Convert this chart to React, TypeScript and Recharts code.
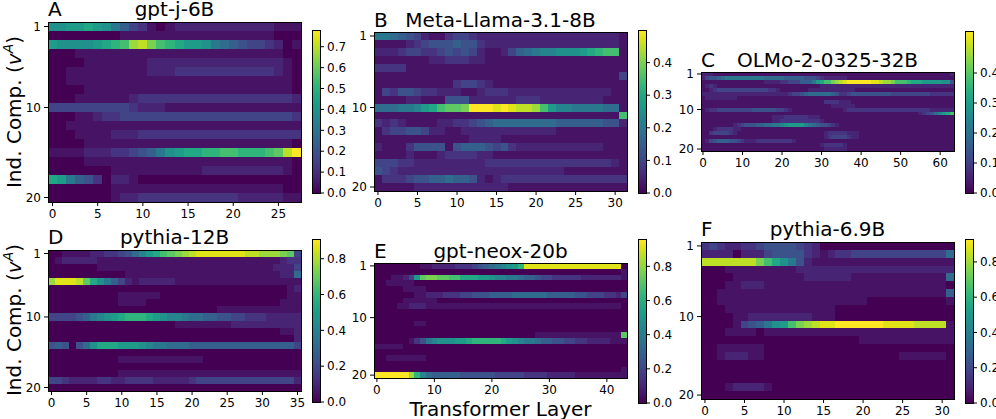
import React from "react";
import { ScatterChart, Scatter, XAxis, YAxis, BarChart, Bar } from "recharts";

const FONT = "'DejaVu Sans', 'Liberation Sans', sans-serif";

// One character per transformer layer; level 0..k = 0..100 % of the panel's colour-bar maximum.
const LEVELS = "0123456789abcdefghijk";

const gptJ6B = [
  "aabbc ba864 31012 22222 22222 111",
  "00000 00011 11111 11111 11111 000",
  "baaaa bcdeh igedc bba87 65443 201",
  "00011 11111 11111 11111 11111 100",
  "00001 11111 12222 22222 22222 210",
  "00111 11111 12223 33333 33333 210",
  "00111 11111 11111 11111 11111 110",
  "00001 11111 11111 11111 11111 110",
  "00011 11112 33333 33333 33333 332",
  "44444 44443 22211 11111 11111 111",
  "00011 23344 44444 44444 44444 443",
  "00111 11111 11111 11111 11111 111",
  "00011 11222 33333 33333 33333 333",
  "00001 11111 11111 11111 11111 110",
  "11112 22334 568ab ccdde eddde fik",
  "00001 11111 11111 11111 11111 110",
  "00000 00111 11111 11222 22222 210",
  "cb865 30221 00000 00000 00000 000",
  "00000 00111 11111 11111 11111 100",
  "00000 00122 33333 33333 32222 211",
];

const llama31_8B = [
  "88765 42113 44322 22222 22222 22222 21",
  "11112 34555 65532 22222 22222 22222 21",
  "22234 43345 45421 12467 899aa abcde e1",
  "11111 11223 33221 11111 11111 11111 11",
  "33331 11111 11111 11111 11111 11111 11",
  "11111 11111 11111 11111 11111 11111 14",
  "11111 11111 34432 11111 11111 11111 11",
  "14355 43322 21123 33222 22222 22222 11",
  "11112 21115 55222 22233 32222 22221 11",
  "77788 9bcef fgkkk jkjii heb99 88887 71",
  "11111 11111 11111 11111 11111 11111 1e",
  "32321 11122 33456 77777 77766 66665 52",
  "13445 54221 12222 22222 22211 11111 11",
  "11111 11111 11222 21111 11111 11111 11",
  "21113 55551 56665 45322 22222 22221 11",
  "11112 11123 33322 11111 11111 11111 11",
  "44433 22222 22223 33333 33333 33333 21",
  "54322 22222 22222 22222 22221 11111 11",
  "13334 55667 66521 23333 33333 33333 33",
  "11111 22222 22222 22111 11111 11111 11",
];

const olmo2_32B = [
  "2221111111 1111111111 1111111111 1111111111 1111111111 1111111111 1112",
  "2455678888 8888887777 7666665554 3222222111 1111111111 1111111111 1111",
  "1111111111 1111112222 334446668b ceeghijkkk kkkjjihhge eedcccbbbb baa5",
  "1232111111 1111111111 1111111111 2222222222 2222222222 2222222222 2222",
  "1123444444 4444444332 1111111222 2222222221 1111111111 1111111111 1111",
  "2222222222 2222222222 2234456777 7776533455 5555555544 4444444433 3333",
  "1222222221 1111111111 1111111111 1111111111 1111111111 1111111111 1111",
  "1111111111 1111111111 1111111111 1333322211 1111111111 1111111111 1111",
  "1111111111 1111111111 1111111111 1112222221 1111111111 1111111111 1111",
  "1233444444 4445555554 4321111111 1111112333 3333333333 3333333322 2222",
  "1111111111 1111111111 1111111111 1111111111 1111111111 1111123457 9bce",
  "1111111111 1111111122 2333333222 1111111111 1111111111 1111111111 1111",
  "1111111111 1111111122 3333333333 2111111111 1111111111 1111111111 1111",
  "1111111123 4555667788 9abbbb9876 5543211111 1111111111 1111111111 1111",
  "1112333322 1111111111 1111111111 1111111111 1111111111 1111111111 1111",
  "1134444321 1111111111 1111111111 1233333222 1111111111 1111111111 1111",
  "1111111111 1111111111 1111111111 1234444322 1111111111 1111111111 1111",
  "1245666554 3222333333 3332111111 1111111111 1111111111 1111111111 1111",
  "1111111111 1111111111 1111111111 2333332111 1111111111 1111111111 1111",
  "1111111111 1111111111 1111111111 1222222111 1111111111 1111111111 1111",
];

const pythia12B = [
  "00111 12233 4579b cefgh ijjjj jjjii hhhgf 4",
  "01222 22111 11111 11111 11111 11111 11123 3",
  "00000 00111 11111 11111 11111 11111 11222 4",
  "00000 00000 01111 11111 11111 11111 11122 7",
  "hjjji fca86 42122 22211 11111 11111 11111 1",
  "00000 00000 00000 00000 00000 00000 00001 2",
  "00000 00000 11111 10000 00000 00000 00001 1",
  "00000 00000 11110 00000 00000 00000 00011 1",
  "00000 00000 00000 00000 00001 11111 11111 1",
  "44445 689ab cdddc ba998 77665 54433 32222 2",
  "00000 00000 00000 00011 11111 12222 22222 2",
  "00000 00000 00000 00000 00000 00000 00011 2",
  "00000 00000 00000 00000 00000 00000 00000 2",
  "56505 7accc bbba9 88777 66666 66666 66666 4",
  "00000 00000 00000 00000 00000 00000 00000 0",
  "00000 00000 11111 11111 11000 00000 00000 0",
  "00000 00000 00000 00000 00000 00000 00000 0",
  "00000 00000 11111 11111 11111 11111 11111 1",
  "44322 22332 23333 22222 34444 44444 44444 2",
  "00000 00000 00000 00000 00000 00000 00000 0",
];

const gptNeox20b = [
  "0000000011 2222333456 789abdjjjj jjjjjjjjjj jjj0",
  "0000000000 0000000000 0000000000 0000000000 0001",
  "0001124bfg gffeecccbb a998876654 4333332222 2221",
  "0011111000 0000000000 0000000000 0000000000 0000",
  "0000011110 0000000000 0000000000 0000000000 0000",
  "0000000112 2233344555 6666777777 6666655444 3324",
  "0000011111 1000000000 0000000000 0000000000 0000",
  "0000112221 1111111111 1111111111 1111111111 1110",
  "0000000000 0000000000 0000000000 0000000000 0000",
  "0000000000 0000000000 0000000000 0000000000 0000",
  "0000000110 0000000000 0000000000 0000000000 0000",
  "0000000000 0000000000 0000000000 0000000000 0000",
  "0000000000 0000000000 0000000011 1111111111 111f",
  "0000001358 9aaabbcddd ddcba98876 6554433222 2111",
  "1111100000 0000000000 0000000000 0000000000 0000",
  "0000000000 0000000000 0000000000 0000000000 0000",
  "0011111110 0000000000 0000000000 0000000000 0000",
  "0000000000 0000000000 0000000000 0000000000 0000",
  "0000000000 0000000000 0000000000 0000000000 0001",
  "kkkkkkhd97 6666655555 5444443333 2222211111 1111",
];

const pythia69B = [
  "34322 33455 55432 00000 00000 00000 00",
  "22220 22245 55532 12334 44444 44444 47",
  "iiiii iigec a8521 11111 11111 11111 11",
  "00011 11111 11222 22222 22222 22222 22",
  "00001 11111 11122 22221 11111 11111 17",
  "00011 22211 11111 11111 11111 11111 10",
  "00111 11111 11111 11111 11111 11111 16",
  "00111 11111 11111 11111 10000 00000 01",
  "00011 11111 11111 11000 00000 00000 00",
  "00001 12222 22221 11000 00000 00000 00",
  "00001 4568a beghi jjkkk kkkjj jjiii i1",
  "00011 11011 11111 11111 11111 11111 11",
  "00000 00000 00000 00000 11111 11111 11",
  "00111 11100 00000 00000 00000 00000 00",
  "00122 21100 00000 00000 00000 11111 10",
  "00000 00000 00000 00000 00000 00000 00",
  "00000 00000 00000 00000 00000 00000 00",
  "00000 00000 00000 00000 00000 00000 00",
  "00012 22210 00000 00000 00000 00000 00",
  "00000 00000 00000 00000 00000 00000 00",
];

const compTicks = [1, 10, 20];
const layerTicksA = [0, 5, 10, 15, 20, 25];
const layerTicksB = [0, 5, 10, 15, 20, 25, 30];
const layerTicksC = [0, 10, 20, 30, 40, 50, 60];
const layerTicksD = [0, 5, 10, 15, 20, 25, 30, 35];
const layerTicksE = [0, 10, 20, 30, 40];
const layerTicksF = [0, 5, 10, 15, 20, 25, 30];
const cbTicksA = [0, 0.1, 0.2, 0.3, 0.4, 0.5, 0.6, 0.7];
const cbTicksBC = [0, 0.1, 0.2, 0.3, 0.4];
const cbTicksDEF = [0, 0.2, 0.4, 0.6, 0.8];

const VIRIDIS = [
  "#440154", "#471365", "#482475", "#463480", "#414487", "#3b528b", "#355f8d",
  "#2f6c8e", "#2a788e", "#25848e", "#21918c", "#1e9c89", "#22a884", "#2fb47c",
  "#44bf70", "#5ec962", "#7ad151", "#9bd93c", "#bddf26", "#dfe318", "#fde725",
];

function hexToRgb(h: string) {
  return [parseInt(h.slice(1, 3), 16), parseInt(h.slice(3, 5), 16), parseInt(h.slice(5, 7), 16)];
}

function viridis(t: number) {
  const x = Math.max(0, Math.min(1, t)) * (VIRIDIS.length - 1);
  const i = Math.floor(x);
  if (i >= VIRIDIS.length - 1) return VIRIDIS[VIRIDIS.length - 1];
  const f = x - i;
  const a = hexToRgb(VIRIDIS[i]);
  const b = hexToRgb(VIRIDIS[i + 1]);
  const c = a.map((av, k) => Math.round(av + (b[k] - av) * f));
  return `rgb(${c[0]},${c[1]},${c[2]})`;
}

function buildCells(rows: string[], n: number, vmax: number) {
  const out: any[] = [];
  rows.forEach((row, r) => {
    const s = row.replace(/\s+/g, "");
    for (let c = 0; c < n; c++) {
      const lvl = Math.max(0, LEVELS.indexOf(s[c] ?? "0"));
      const v = (lvl / 20) * vmax;
      out.push({ layer: c, comp: r + 1, v, fill: viridis(v / vmax) });
    }
  });
  return out;
}

const panels = [
  { key: "A", title: "gpt-j-6B", rows: gptJ6B, n: 28, vmax: 0.78, layerTicks: layerTicksA, cbTicks: cbTicksA,
    plot: { x: 48, y: 22, w: 253, h: 180 }, cb: { x: 312, y: 30, w: 8, h: 163 }, titleY: 15.5 },
  { key: "B", title: "Meta-Llama-3.1-8B", rows: llama31_8B, n: 32, vmax: 0.5, layerTicks: layerTicksB, cbTicks: cbTicksBC,
    plot: { x: 374, y: 32, w: 253, h: 159 }, cb: { x: 638, y: 30, w: 8, h: 163 }, titleY: 27 },
  { key: "C", title: "OLMo-2-0325-32B", rows: olmo2_32B, n: 64, vmax: 0.54, layerTicks: layerTicksC, cbTicks: cbTicksBC,
    plot: { x: 701, y: 72, w: 253, h: 79 }, cb: { x: 965, y: 31, w: 8, h: 162 }, titleY: 66.5 },
  { key: "D", title: "pythia-12B", rows: pythia12B, n: 36, vmax: 0.91, layerTicks: layerTicksD, cbTicks: cbTicksDEF,
    plot: { x: 48, y: 250, w: 253, h: 141 }, cb: { x: 312, y: 239, w: 8, h: 163 }, titleY: 244 },
  { key: "E", title: "gpt-neox-20b", rows: gptNeox20b, n: 44, vmax: 0.96, layerTicks: layerTicksE, cbTicks: cbTicksDEF,
    plot: { x: 374, y: 263, w: 253, h: 115 }, cb: { x: 638, y: 239, w: 8, h: 164 }, titleY: 257.5 },
  { key: "F", title: "pythia-6.9B", rows: pythia69B, n: 32, vmax: 0.93, layerTicks: layerTicksF, cbTicks: cbTicksDEF,
    plot: { x: 701, y: 242, w: 253, h: 157 }, cb: { x: 965, y: 239, w: 8, h: 164 }, titleY: 235.5 },
];

const tickStyle = { fill: "#000", fontSize: 12, fontFamily: FONT };

function Frame({ left, top, w, h }: { left: number; top: number; w: number; h: number }) {
  return (
    <div
      style={{
        position: "absolute", left: left - 0.5, top: top - 0.5, width: w + 1, height: h + 1,
        border: "1px solid #000", boxSizing: "border-box", pointerEvents: "none",
      }}
    />
  );
}

function Heatmap({ p }: { p: any }) {
  const ML = 34, MT = 8, MR = 8, XH = 26;
  const cw = p.plot.w / p.n;
  const chh = p.plot.h / 20;
  const data = buildCells(p.rows, p.n, p.vmax);
  return (
    <div style={{ position: "absolute", left: p.plot.x - ML, top: p.plot.y - MT }}>
      <ScatterChart
        width={ML + p.plot.w + MR}
        height={MT + p.plot.h + XH}
        margin={{ top: MT, right: MR, bottom: 0, left: 0 }}
      >
        <XAxis
          type="number" dataKey="layer" domain={[-0.5, p.n - 0.5]} allowDataOverflow
          ticks={p.layerTicks} interval={0} height={XH} axisLine={false}
          tickSize={4} tickMargin={3} stroke="#000" tick={tickStyle}
        />
        <YAxis
          type="number" dataKey="comp" domain={[0.5, 20.5]} allowDataOverflow reversed
          ticks={compTicks} interval={0} width={ML} axisLine={false}
          tickSize={4} tickMargin={3} stroke="#000" tick={tickStyle}
        />
        <Scatter
          data={data}
          isAnimationActive={false}
          shape={(s: any) => (
            <rect
              x={s.cx - cw / 2} y={s.cy - chh / 2} width={cw + 0.35} height={chh + 0.35}
              fill={s.payload.fill} shapeRendering="crispEdges"
            />
          )}
        />
      </ScatterChart>
      <Frame left={ML} top={MT} w={p.plot.w} h={p.plot.h} />
    </div>
  );
}

function Colorbar({ p }: { p: any }) {
  const MT = 8, MB = 8, RW = 40;
  const gid = `viridis-${p.key}`;
  return (
    <div style={{ position: "absolute", left: p.cb.x, top: p.cb.y - MT }}>
      <BarChart
        width={p.cb.w + RW}
        height={p.cb.h + MT + MB}
        data={[{ name: "cb", v: p.vmax }]}
        margin={{ top: MT, right: 0, bottom: MB, left: 0 }}
        barCategoryGap={0}
      >
        <defs>
          <linearGradient id={gid} x1="0" y1="1" x2="0" y2="0">
            {VIRIDIS.map((c, i) => (
              <stop key={i} offset={`${(i / (VIRIDIS.length - 1)) * 100}%`} stopColor={c} />
            ))}
          </linearGradient>
        </defs>
        <XAxis dataKey="name" hide />
        <YAxis
          orientation="right" type="number" domain={[0, p.vmax]} allowDataOverflow
          ticks={p.cbTicks} interval={0} width={RW} axisLine={false}
          tickSize={4} tickMargin={3} stroke="#000" tick={tickStyle}
          tickFormatter={(v: number) => v.toFixed(1)}
        />
        <Bar dataKey="v" fill={`url(#${gid})`} isAnimationActive={false} />
      </BarChart>
      <Frame left={0} top={MT} w={p.cb.w} h={p.cb.h} />
    </div>
  );
}

function YLabel({ cy }: { cy: number }) {
  const x = 21;
  return (
    <text x={x} y={cy} transform={`rotate(-90 ${x} ${cy})`} textAnchor="middle" fontSize={20} fontFamily={FONT} fill="#000">
      Ind. Comp. (
      <tspan fontStyle="italic">v</tspan>
      <tspan fontStyle="italic" fontSize={14} dy={-8}>A</tspan>
      <tspan dy={8}>)</tspan>
    </text>
  );
}

export default function App() {
  return (
    <div style={{ position: "absolute", left: 0, top: 0, width: 996, height: 419, background: "#fff", overflow: "hidden" }}>
      {panels.map((p) => (
        <React.Fragment key={p.key}>
          <Heatmap p={p} />
          <Colorbar p={p} />
        </React.Fragment>
      ))}
      <svg width={996} height={419} style={{ position: "absolute", left: 0, top: 0, pointerEvents: "none" }}>
        {panels.map((p) => (
          <g key={p.key} fontFamily={FONT} fill="#000">
            <text x={p.plot.x} y={p.titleY} fontSize={20}>{p.key}</text>
            <text x={p.plot.x + p.plot.w / 2} y={p.titleY} fontSize={20} textAnchor="middle">{p.title}</text>
          </g>
        ))}
        <YLabel cy={112} />
        <YLabel cy={320} />
        <text x={500.5} y={415.5} fontSize={20} textAnchor="middle" fontFamily={FONT} fill="#000">Transformer Layer</text>
      </svg>
    </div>
  );
}
